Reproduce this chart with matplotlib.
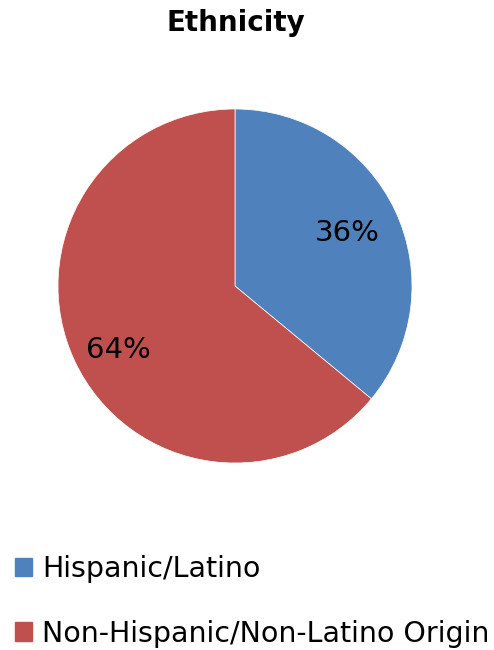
import matplotlib.pyplot as plt
from matplotlib.patches import Patch

labels = ['Hispanic/Latino', 'Non-Hispanic/Non-Latino Origin']
shares = [36, 64]
colors = ['#4F81BD', '#C0504D']

plt.rcParams['font.family'] = ['DejaVu Sans']

fig = plt.figure(figsize=(4.94, 6.5), dpi=100)
ax = fig.add_axes([58 / 494, 187 / 650, 354 / 494, 354 / 650])
wedges, texts, autotexts = ax.pie(
    shares, colors=colors, startangle=90, counterclock=False,
    autopct='%1.0f%%', pctdistance=0.7,
    wedgeprops=dict(edgecolor='white', linewidth=0.5),
    textprops=dict(fontsize=21, color='black'))
# excel placed the big slice's label a bit off-centre
autotexts[1].set_position((-0.66, -0.36))
ax.set_xlim(-1, 1)
ax.set_ylim(-1, 1)
ax.set_aspect('equal')

fig.text(236 / 494, 1 - 23 / 650, 'Ethnicity', ha='center', va='center',
         fontsize=20, fontweight='bold')

handles = [Patch(facecolor=c, edgecolor=c) for c in colors]
fig.legend(handles, labels, loc='upper left', bbox_to_anchor=(0.0, 1 - 540 / 650),
           frameon=False, fontsize=20.5, handlelength=0.6, handleheight=0.6,
           handletextpad=0.35, labelspacing=1.28, borderaxespad=0.33,
           borderpad=0.2)

fig.savefig('out.png', dpi=100)
